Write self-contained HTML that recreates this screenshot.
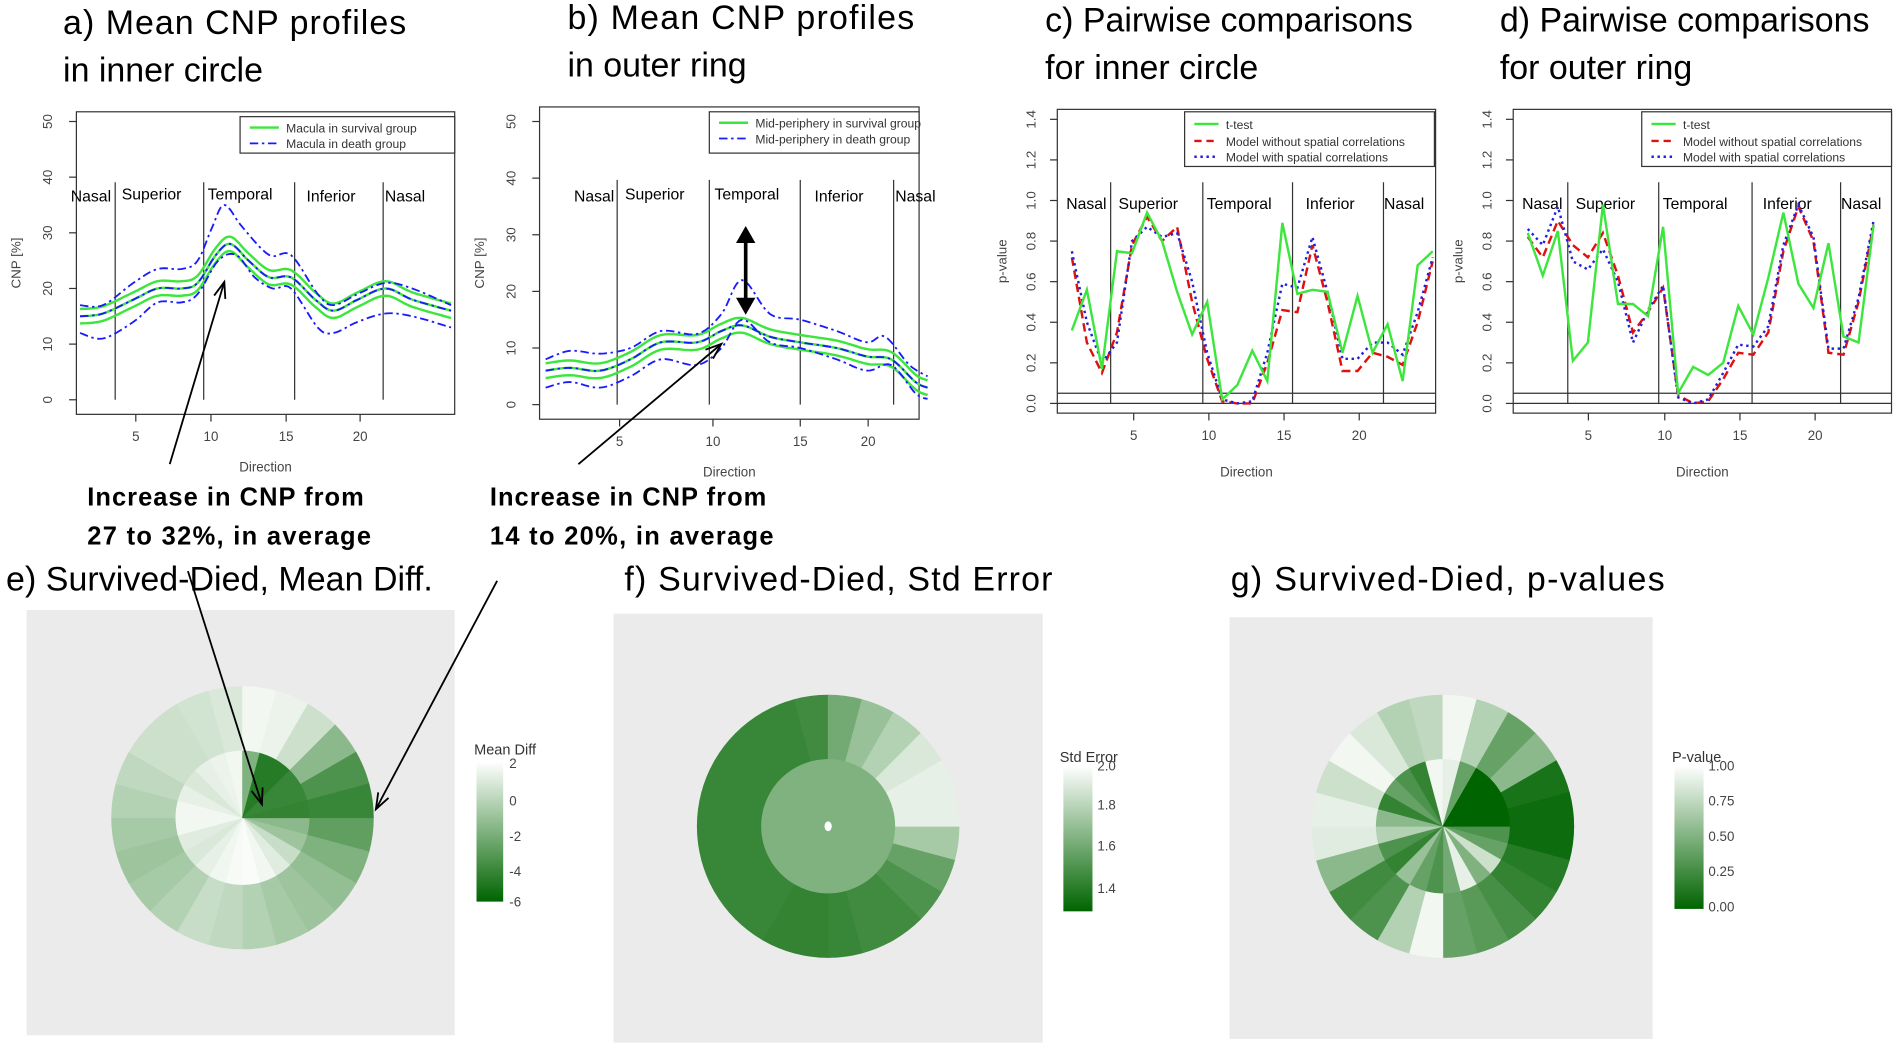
<!DOCTYPE html>
<html><head><meta charset="utf-8"><style>
html,body{margin:0;padding:0;background:#fff;}
svg{display:block;}
text{font-family:"Liberation Sans",sans-serif;}
.t{font-family:"Liberation Sans",sans-serif;font-size:28px;}
.ann{font-size:21px;font-weight:bold;}
.sm{font-size:10px;fill:#333;}
.lab{font-size:13px;}
.tk{font-size:11px;fill:#444;}
</style></head><body>
<svg id="s" width="1900" height="1045" viewBox="0 0 1567 860" preserveAspectRatio="none" xmlns="http://www.w3.org/2000/svg">
<rect width="1567" height="860" fill="#fff"/>
<text class="t" x="52" y="28" textLength="283">a) Mean CNP profiles</text>
<text class="t" x="52" y="67">in inner circle</text>
<text class="t" x="468" y="24" textLength="286">b) Mean CNP profiles</text>
<text class="t" x="468" y="63">in outer ring</text>
<text class="t" x="862" y="26">c) Pairwise comparisons</text>
<text class="t" x="862" y="65">for inner circle</text>
<text class="t" x="1237" y="26">d) Pairwise comparisons</text>
<text class="t" x="1237" y="65">for outer ring</text>
<text class="t" x="5" y="486" textLength="352">e) Survived-Died, Mean Diff.</text>
<text class="t" x="515" y="486" textLength="353">f) Survived-Died, Std Error</text>
<text class="t" x="1015" y="486" textLength="358">g) Survived-Died, p-values</text>
<text class="ann" x="72" y="416" textLength="228">Increase in CNP from</text>
<text class="ann" x="72" y="448" textLength="234">27 to 32%, in average</text>
<text class="ann" x="404" y="416" textLength="228">Increase in CNP from</text>
<text class="ann" x="404" y="448" textLength="234">14 to 20%, in average</text>
<g id="g"></g>
<text class="sm" x="391" y="621" style="font-size:12px">Mean Diff</text>
<text class="sm" x="874" y="627" style="font-size:12px">Std Error</text>
<text class="sm" x="1379" y="627" style="font-size:12px">P-value</text>
<defs>
<linearGradient id="cb" x1="0" y1="0" x2="0" y2="1"><stop offset="0" stop-color="#ffffff"/><stop offset="1" stop-color="#006400"/></linearGradient>
</defs>
<rect x="393" y="627" width="22" height="115" fill="url(#cb)"/>
<text class="tk" x="420" y="632">2</text><text class="tk" x="420" y="663">0</text><text class="tk" x="420" y="692">-2</text><text class="tk" x="420" y="721">-4</text><text class="tk" x="420" y="746">-6</text>
<rect x="877" y="630" width="24" height="120" fill="url(#cb)"/>
<text class="tk" x="905" y="634">2.0</text><text class="tk" x="905" y="666">1.8</text><text class="tk" x="905" y="700">1.6</text><text class="tk" x="905" y="735">1.4</text>
<rect x="1381" y="630" width="24" height="118" fill="url(#cb)"/>
<text class="tk" x="1409" y="634">1.00</text><text class="tk" x="1409" y="663">0.75</text><text class="tk" x="1409" y="692">0.50</text><text class="tk" x="1409" y="721">0.25</text><text class="tk" x="1409" y="750">0.00</text>
</svg>
<script>
var NS="http://www.w3.org/2000/svg",G=document.getElementById("g");
function el(t,a,txt){var e=document.createElementNS(NS,t);for(var k in a)e.setAttribute(k,a[k]);if(txt!=null)e.textContent=txt;G.appendChild(e);return e;}
function col(t){t=Math.max(0,Math.min(1,t));var r=Math.round(255*(1-t)),g=Math.round(255-(255-100)*t),b=r;return "rgb("+r+","+g+","+b+")";}
function pl(pts,st){el("polyline",Object.assign({points:pts.map(function(p){return p[0].toFixed(1)+","+p[1].toFixed(1)}).join(" "),fill:"none"},st));}
function smooth(k,n){var out=[];for(var i=0;i<k.length-1;i++){var p0=k[Math.max(0,i-1)],p1=k[i],p2=k[i+1],p3=k[Math.min(k.length-1,i+2)];for(var j=0;j<n;j++){var t=j/n,t2=t*t,t3=t2*t;function cr(a,b,c,d){return 0.5*(2*b+(-a+c)*t+(2*a-5*b+4*c-d)*t2+(-a+3*b-3*c+d)*t3);}out.push([cr(p0[0],p1[0],p2[0],p3[0]),cr(p0[1],p1[1],p2[1],p3[1])]);}}out.push(k[k.length-1]);return out;}
var GR={stroke:"#3de63d","stroke-width":2},BL={stroke:"#1a1aff","stroke-width":1.5,"stroke-dasharray":"7,3,2,3"};
function profile(o){
 el("rect",{x:o.bx,y:o.by,width:o.bw,height:o.bh,fill:"none",stroke:"#333","stroke-width":1});
 function Y(v){return o.y0-v*o.yk;}
 for(var v=0;v<=50;v+=10){var y=Y(v);el("line",{x1:o.bx-6,y1:y,x2:o.bx,y2:y,stroke:"#333"});el("text",{class:"tk",x:o.bx-20,y:y,transform:"rotate(-90 "+(o.bx-20)+" "+y+")","text-anchor":"middle"},v);}
 o.xt.forEach(function(x,i){el("line",{x1:x,y1:o.by+o.bh,x2:x,y2:o.by+o.bh+6,stroke:"#333"});el("text",{class:"tk",x:x,y:o.by+o.bh+22,"text-anchor":"middle"},[5,10,15,20][i]);});
 el("text",{class:"tk",x:o.bx-46,y:o.by+o.bh/2,transform:"rotate(-90 "+(o.bx-46)+" "+(o.by+o.bh/2)+")","text-anchor":"middle"},"CNP [%]");
 el("text",{class:"tk",x:o.bx+o.bw/2,y:o.by+o.bh+47,"text-anchor":"middle"},"Direction");
 o.vl.forEach(function(x){el("line",{x1:x,y1:o.vt,x2:x,y2:Y(0),stroke:"#333"});});
 o.lb.forEach(function(l){el("text",{class:"lab",x:l[0],y:l[1],"text-anchor":"middle"},l[2]);});
 var m=smooth(o.mean,8);
 [-1.3,0,1.3].forEach(function(d){pl(m.map(function(p){return[p[0],Y(p[1]+d)]}),GR);});
 [o.up,o.lo].forEach(function(a){pl(smooth(a,8).map(function(p){return[p[0],Y(p[1])]}),BL);});
 pl(m.map(function(p){return[p[0],Y(p[1]+o.md)]}),BL);
 var L=o.leg;el("rect",{x:L[0],y:L[1],width:L[2],height:L[3],fill:"#fff",stroke:"#333"});
 el("line",Object.assign({x1:L[0]+8,y1:L[1]+9,x2:L[0]+32,y2:L[1]+9},GR));el("text",{class:"sm",x:L[0]+38,y:L[1]+13},L[4]);
 el("line",Object.assign({x1:L[0]+8,y1:L[1]+22,x2:L[0]+32,y2:L[1]+22},BL));el("text",{class:"sm",x:L[0]+38,y:L[1]+26},L[5]);
}
profile({bx:63,by:92,bw:312,bh:249,y0:329,yk:4.58,xt:[112,174,236,297],vl:[95,168,243,316],vt:150,
 lb:[[75,166,"Nasal"],[125,164,"Superior"],[198,164,"Temporal"],[273,166,"Inferior"],[334,166,"Nasal"]],
 mean:[[66,15],[85,15.5],[110,18],[130,20],[150,20],[163,21],[178,26],[190,28],[205,25],[222,22],[240,22],[260,18],[275,16],[295,18],[318,20],[340,18],[372,16]],
 up:[[66,17],[85,17],[110,21],[130,23.5],[150,23.5],[163,25],[175,31],[185,35],[200,31],[222,26],[240,26],[262,19],[275,17],[295,19],[318,21],[340,20],[372,17]],
 lo:[[66,12],[85,11],[110,14],[130,17.5],[150,17.5],[163,19],[180,25],[195,26],[210,22],[225,20],[240,20],[262,13],[275,12],[295,14],[318,15.5],[340,15],[372,13]],md:0,
 leg:[198,96,177,30,"Macula in survival group","Macula in death group"]});
profile({bx:445,by:88,bw:313,bh:257,y0:333,yk:4.66,xt:[511,588,660,716],vl:[509,585,660,737],vt:148,
 lb:[[490,166,"Nasal"],[540,164,"Superior"],[616,164,"Temporal"],[692,166,"Inferior"],[755,166,"Nasal"]],
 mean:[[450,6],[470,6.5],[495,6],[520,8],[545,11],[575,11],[595,13],[612,14],[635,12],[660,11],[690,10],[715,8.5],[735,8],[755,4],[765,3]],
 up:[[450,8],[470,9.5],[495,9],[520,10],[545,13],[575,12.5],[595,16],[612,22],[635,16],[660,15],[690,13],[715,11],[730,12],[750,7],[765,5]],
 lo:[[450,3],[470,4],[495,3],[520,5],[545,8],[575,7],[595,10],[612,15],[635,11],[660,10],[690,8],[715,6],[735,7],[755,2],[765,1]],md:0,
 leg:[585,92,173,34,"Mid-periphery in survival group","Mid-periphery in death group"]});
el("line",{x1:615,y1:197,x2:615,y2:248,stroke:"#000","stroke-width":3});
el("polygon",{points:"607,200 623,200 615,186",fill:"#000"});el("polygon",{points:"607,245 623,245 615,259",fill:"#000"});
function pval(o){
 el("rect",{x:o.bx,y:90,width:312,height:250,fill:"none",stroke:"#333"});
 function Y(v){return 332-v*167;}
 for(var i=0;i<=7;i++){var v=i*0.2,y=Y(v);el("line",{x1:o.bx-6,y1:y,x2:o.bx,y2:y,stroke:"#333"});el("text",{class:"tk",x:o.bx-18,y:y,transform:"rotate(-90 "+(o.bx-18)+" "+y+")","text-anchor":"middle"},v.toFixed(1));}
 el("text",{class:"tk",x:o.bx-42,y:215,transform:"rotate(-90 "+(o.bx-42)+" 215)","text-anchor":"middle"},"p-value");
 o.xt.forEach(function(x,i){el("line",{x1:x,y1:340,x2:x,y2:346,stroke:"#333"});el("text",{class:"tk",x:x,y:362,"text-anchor":"middle"},[5,10,15,20][i]);});
 el("text",{class:"tk",x:o.bx+156,y:392,"text-anchor":"middle"},"Direction");
 el("line",{x1:o.bx,y1:Y(0),x2:o.bx+312,y2:Y(0),stroke:"#333"});el("line",{x1:o.bx,y1:Y(0.05),x2:o.bx+312,y2:Y(0.05),stroke:"#333"});
 o.vl.forEach(function(x){el("line",{x1:x,y1:150,x2:x,y2:Y(0),stroke:"#333"});});
 o.lb.forEach(function(l){el("text",{class:"lab",x:l[0],y:172,"text-anchor":"middle"},l[1]);});
 function X(d){return o.x1+(d-1)*o.dx;}
 function line(a,st){pl(a.map(function(v,i){return[X(i+1),Y(v)]}),st);}
 line(o.r,{stroke:"#e01010","stroke-width":2,"stroke-dasharray":"7,4"});
 line(o.b,{stroke:"#2020e0","stroke-width":2,"stroke-dasharray":"2,3"});
 line(o.g,{stroke:"#3de63d","stroke-width":2});
 var lx=o.lx;el("rect",{x:lx,y:92,width:206,height:45,fill:"#fff",stroke:"#333"});
 el("line",{x1:lx+8,y1:102,x2:lx+28,y2:102,stroke:"#3de63d","stroke-width":2});el("text",{class:"sm",x:lx+34,y:106},"t-test");
 el("line",{x1:lx+8,y1:116,x2:lx+28,y2:116,stroke:"#e01010","stroke-width":2,"stroke-dasharray":"6,4"});el("text",{class:"sm",x:lx+34,y:120},"Model without spatial correlations");
 el("line",{x1:lx+8,y1:129,x2:lx+28,y2:129,stroke:"#2020e0","stroke-width":2,"stroke-dasharray":"2,3"});el("text",{class:"sm",x:lx+34,y:133},"Model with spatial correlations");
}
pval({bx:872,lx:977,xt:[935,997,1059,1121],vl:[916,992,1066,1141],x1:884,dx:12.4,
 lb:[[896,"Nasal"],[947,"Superior"],[1022,"Temporal"],[1097,"Inferior"],[1158,"Nasal"]],
 g:[0.36,0.56,0.17,0.75,0.74,0.94,0.8,0.55,0.34,0.5,0.02,0.09,0.26,0.11,0.89,0.54,0.56,0.55,0.25,0.53,0.25,0.39,0.11,0.68,0.75],
 r:[0.72,0.3,0.15,0.35,0.78,0.92,0.8,0.87,0.5,0.22,0.01,0,0,0.2,0.46,0.45,0.78,0.5,0.16,0.16,0.25,0.23,0.19,0.4,0.7],
 b:[0.75,0.4,0.2,0.3,0.8,0.87,0.82,0.84,0.6,0.25,0.02,0,0.01,0.25,0.59,0.57,0.82,0.55,0.22,0.22,0.3,0.3,0.24,0.45,0.72]});
pval({bx:1248,lx:1354,xt:[1310,1373,1435,1497],vl:[1293,1368,1445,1518],x1:1260,dx:12.4,
 lb:[[1272,"Nasal"],[1324,"Superior"],[1398,"Temporal"],[1474,"Inferior"],[1535,"Nasal"]],
 g:[0.84,0.63,0.85,0.21,0.3,0.98,0.49,0.49,0.43,0.87,0.05,0.18,0.14,0.2,0.48,0.34,0.62,0.94,0.59,0.47,0.79,0.33,0.3,0.88],
 r:[0.82,0.72,0.9,0.78,0.72,0.84,0.63,0.35,0.45,0.57,0.04,0,0.01,0.12,0.25,0.24,0.35,0.75,0.97,0.8,0.25,0.24,0.5,0.88],
 b:[0.86,0.78,0.97,0.7,0.66,0.76,0.6,0.3,0.46,0.58,0.03,0,0.02,0.15,0.29,0.28,0.38,0.78,0.98,0.82,0.27,0.27,0.52,0.9]});
function disc(o){
 el("rect",{x:o.px,y:o.py,width:o.pw,height:o.ph,fill:"#ebebeb"});
 function ring(r0,r1,vals){for(var i=0;i<24;i++){var a0=i*15*Math.PI/180,a1=(i+1)*15*Math.PI/180,cx=o.cx,cy=o.cy;
  var d="M"+(cx+r0*Math.cos(a0))+","+(cy+r0*Math.sin(a0))+" L"+(cx+r1*Math.cos(a0))+","+(cy+r1*Math.sin(a0))+" A"+r1+","+r1+" 0 0 1 "+(cx+r1*Math.cos(a1))+","+(cy+r1*Math.sin(a1))+" L"+(cx+r0*Math.cos(a1))+","+(cy+r0*Math.sin(a1))+(r0>0?" A"+r0+","+r0+" 0 0 0 "+(cx+r0*Math.cos(a0))+","+(cy+r0*Math.sin(a0)):"")+"Z";
  var c=col(vals[i]);el("path",{d:d,fill:c,stroke:c,"stroke-width":0.5});}}
 ring(55,108,o.out);ring(0,55,o.inn);
 if(o.dot)el("ellipse",{cx:o.cx,cy:o.cy,rx:3,ry:4,fill:"#fff"});
}
disc({px:22,py:502,pw:353,ph:350,cx:200,cy:673,
 out:[0.62,0.5,0.42,0.38,0.35,0.3,0.25,0.22,0.3,0.35,0.38,0.35,0.3,0.25,0.2,0.2,0.18,0.15,0.05,0.08,0.2,0.45,0.7,0.78],
 inn:[0.45,0.38,0.22,0.12,0.05,0.02,0.03,0.06,0.1,0.15,0.12,0.05,0.05,0.1,0.15,0.1,0.08,0.05,0.5,0.85,0.85,0.78,0.78,0.8]});
disc({px:506,py:505,pw:354,ph:353,cx:683,cy:680,dot:1,
 out:[0.35,0.6,0.7,0.75,0.75,0.78,0.8,0.8,0.78,0.78,0.78,0.78,0.78,0.78,0.78,0.78,0.78,0.75,0.55,0.4,0.3,0.15,0.1,0.1],
 inn:Array(24).fill(0.5)});
disc({px:1014,py:508,pw:349,ph:347,cx:1190,cy:680,
 out:[0.95,0.85,0.8,0.72,0.65,0.6,0.05,0.3,0.7,0.75,0.45,0.12,0.1,0.2,0.05,0.15,0.3,0.25,0.05,0.3,0.6,0.45,0.9,0.95],
 inn:[0.7,0.6,0.2,0.5,0.1,0.55,0.7,0.6,0.4,0.8,0.7,0.3,0.45,0.8,0.6,0.7,0.8,0.05,0.1,0.6,1,1,1,1]});
function arrow(x1,y1,x2,y2){el("line",{x1:x1,y1:y1,x2:x2,y2:y2,stroke:"#000","stroke-width":1.5});var a=Math.atan2(y2-y1,x2-x1),L=14,w=0.35;
 el("polyline",{points:(x2-L*Math.cos(a-w))+","+(y2-L*Math.sin(a-w))+" "+x2+","+y2+" "+(x2-L*Math.cos(a+w))+","+(y2-L*Math.sin(a+w)),fill:"none",stroke:"#000","stroke-width":1.5});}
arrow(140,382,185,232);arrow(477,382,595,283);arrow(155,470,216,662);arrow(410,478,310,666);
</script>
</body></html>
